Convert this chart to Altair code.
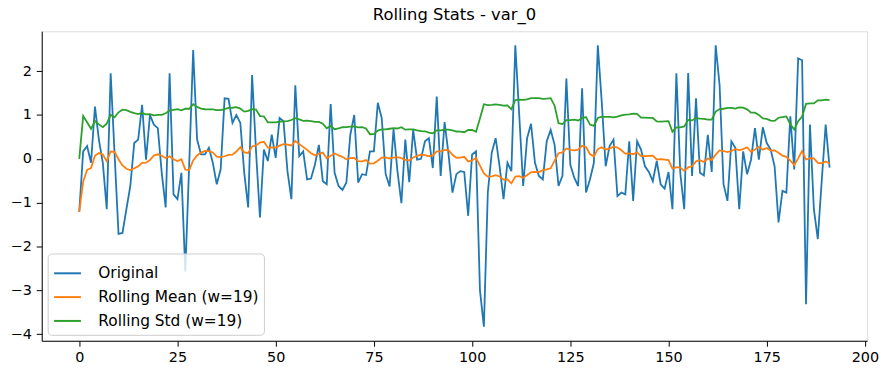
import altair as alt
import pandas as pd

# ---- data ----
original = [
    -1.21, 0.17, 0.29, -0.09, 1.19, 0.44, -0.09, -1.15, 1.95, 0.10,
    -1.71, -1.69, -1.15, -0.62, 0.36, 0.44, 1.23, -0.02, 1.00, 0.78,
    0.70, -0.32, -1.11, 1.95, -0.81, -0.92, -0.32, -2.57, -0.10, 2.48,
    0.44, 0.10, 0.10, 0.25, -0.09, -0.58, -0.24, 1.38, 1.37, 0.82,
    1.00, 0.82, -0.32, -1.11, 1.91, 0.17, -1.34, 0.21, -0.05, 0.55,
    0.02, 0.93, 0.86, -0.28, -0.92, 1.68, 0.06, 0.17, -0.47, -0.45,
    -0.13, 0.32, -0.51, -0.58, 1.25, -0.32, -0.62, -0.71, -0.54, 0.55,
    1.00, -0.54, -0.35, -0.37, 0.17, 0.17, 1.28, 0.93, -0.35, -0.63,
    0.68, -0.28, -1.01, 0.44, -0.53, 0.66, -0.02, 0.00, 0.40, 0.47,
    -0.21, 1.42, -0.39, 0.84, 0.10, -0.77, -0.35, -0.28, -0.30, -1.30,
    0.10, 0.17, -3.00, -3.83, -0.77, 0.14, 0.47, -0.17, -0.92, -0.09,
    -0.28, 2.59, 1.00, -0.62, 0.47, 0.80, -0.09, -0.39, -0.47, 0.40,
    0.66, 0.32, -0.62, -0.39, 1.83, -0.13, -0.43, -0.62, 1.61, -0.77,
    -0.47, -0.09, 2.59, 1.30, -0.17, 0.29, 0.44, -0.85, -0.77, -0.81,
    0.40, -0.96, 0.40, 0.21, -0.17, -0.30, -0.51, -0.05, -0.58, -0.68,
    -0.30, -1.15, 1.95, -0.33, -1.15, 1.96, -0.39, 1.38, -0.32, -0.38,
    0.55, -0.30, 2.59, 1.68, -0.58, -0.96, 0.40, 0.25, -1.15, 0.17,
    -0.35, -0.02, 0.70, -0.02, 0.72, 0.36, 0.21, -0.17, -1.45, -0.73,
    -0.77, 0.97, -0.24, 2.29, 2.25, -3.32, 0.78, -1.15, -1.83, -0.50,
    0.78, -0.20,
]
index = list(range(len(original)))
window = 19
series_names = ["Original", "Rolling Mean (w=19)", "Rolling Std (w=19)"]
series_colors = ["#1f77b4", "#ff7f0e", "#2ca02c"]
x_ticks = [0, 25, 50, 75, 100, 125, 150, 175, 200]
y_ticks = [-4, -3, -2, -1, 0, 1, 2]
title_text = "Rolling Stats - var_0"

df = pd.DataFrame({"i": index, "v": original})

label_expr = (
    f"datum.k == 'v' ? '{series_names[0]}' : "
    f"datum.k == 'rmean' ? '{series_names[1]}' : '{series_names[2]}'"
)

FONT = "DejaVu Sans"
TICK_FS = 14.5

chart = (
    alt.Chart(df)
    .transform_window(
        rmean="mean(v)",
        rstd_raw="stdev(v)",
        frame=[-(window - 1), 0],
        sort=[alt.SortField("i")],
    )
    .transform_calculate(rstd="isValid(datum.rstd_raw) ? datum.rstd_raw : 0")
    .transform_fold(["v", "rmean", "rstd"], as_=["k", "y"])
    .transform_calculate(series=label_expr)
    .mark_line(strokeWidth=1.8)
    .encode(
        x=alt.X(
            "i:Q",
            scale=alt.Scale(domain=[-9.55, 200.55], nice=False, zero=False),
            axis=alt.Axis(
                values=x_ticks, title=None, grid=False, format="d",
                labelFont=FONT, labelFontSize=TICK_FS, labelColor="black",
                tickSize=5.5, labelPadding=4, tickColor="black",
                domainColor="black",
            ),
        ),
        y=alt.Y(
            "y:Q",
            scale=alt.Scale(domain=[-4.151, 2.911], nice=False, zero=False),
            axis=alt.Axis(
                values=y_ticks, title=None, grid=False, format="d",
                labelFont=FONT, labelFontSize=TICK_FS, labelColor="black",
                tickSize=5.5, labelPadding=5, tickColor="black",
                domainColor="black",
            ),
        ),
        color=alt.Color(
            "series:N",
            scale=alt.Scale(domain=series_names, range=series_colors),
            legend=alt.Legend(
                title=None,
                orient="bottom-left",
                offset=6,
                symbolType="stroke",
                symbolSize=730,
                symbolStrokeWidth=2,
                labelFont=FONT,
                labelFontSize=15.5,
                labelColor="black",
                labelLimit=300,
                labelOffset=16,
                rowPadding=-7,
                padding=5,
                fillColor="rgba(255,255,255,0.8)",
                strokeColor="#cccccc",
                cornerRadius=4,
            ),
        ),
    )
    .properties(
        width=832,
        height=312,
        autosize="none",
        padding={"left": 34, "top": 22, "right": 14, "bottom": 23},
        title=alt.Title(
            title_text,
            font=FONT,
            fontSize=16.5,
            fontWeight="normal",
            color="black",
            anchor="middle",
            offset=8,
        ),
    )
    .configure_view(stroke="black", strokeWidth=1)
    .configure(background="white")
)

chart.save("out.html", embed_options={"renderer": "svg", "actions": False})
